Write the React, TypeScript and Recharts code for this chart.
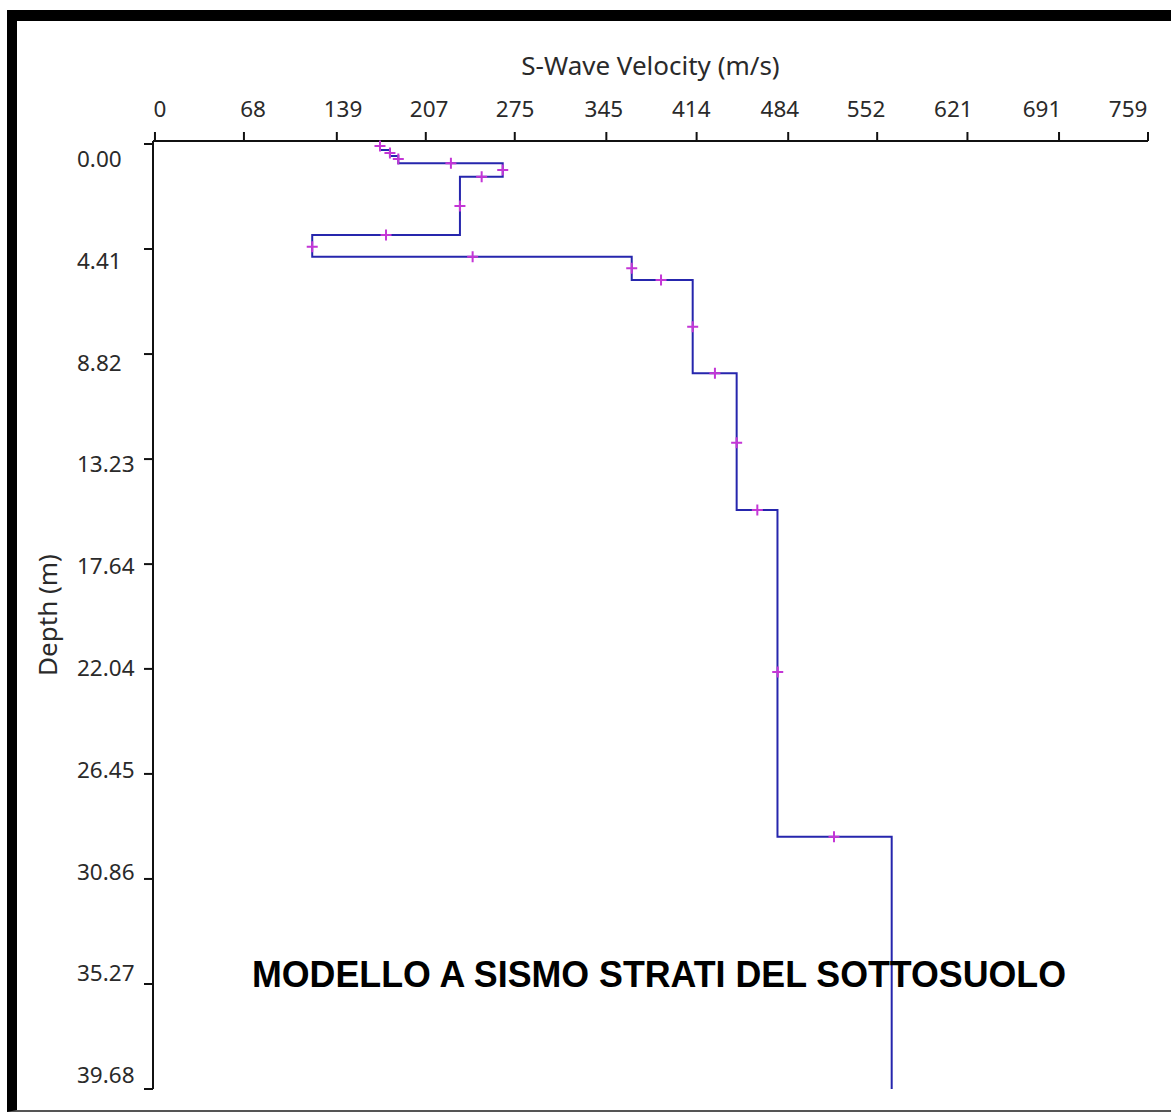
import React from 'react';
import { ScatterChart, Scatter, XAxis, YAxis, Label } from 'recharts';

// axis ticks as printed on the plot
const velocityTicks = [0, 68, 139, 207, 275, 345, 414, 484, 552, 621, 691, 759];
const depthTicks = [0, 4.41, 8.82, 13.23, 17.64, 22.04, 26.45, 30.86, 35.27, 39.68];

// layered model: shear velocity (m/s) and bottom depth (m) of each layer
const layerVelocity = [172, 179.6, 186, 265.8, 233.1, 120.2, 364.4, 411, 444.6, 475.8, 563.1];
const layerBottom = [0.25, 0.5, 0.81, 1.37, 3.82, 4.73, 5.71, 9.63, 15.37, 29.09, 39.68];

// cross markers along the profile
const markerVelocity = [172, 179.6, 186, 226.2, 265.8, 249.7, 233.1, 176.6, 120.2, 242.8, 364.4, 386.8, 411, 428, 444.6, 460.4, 476, 519];
const markerDepth = [0.08, 0.38, 0.63, 0.81, 1.09, 1.37, 2.6, 3.82, 4.31, 4.73, 5.22, 5.71, 7.67, 9.63, 12.54, 15.37, 22.17, 29.09];

const profile: { v: number; d: number }[] = [];
layerVelocity.forEach((v, i) => {
  const top = i === 0 ? 0 : layerBottom[i - 1];
  profile.push({ v, d: top }, { v, d: layerBottom[i] });
});

const markers = markerVelocity.map((v, i) => ({ v, d: markerDepth[i] }));

const FONT = '"Noto Sans", "Open Sans", sans-serif';
const TEXT = '#2a2a2a';

// labels drift slightly against their ticks in the original, kept here
const VelocityTick = ({ x, y, payload, index }: any) => (
  <text x={x + (index === 0 ? 5 : 12 - 2.9 * index)} y={y} textAnchor="middle" fill={TEXT} fontSize={22.5} fontFamily={FONT}>
    {payload.value}
  </text>
);

const DepthTick = ({ x, y, payload, index }: any) => (
  <text x={x - 45} y={y} dy={23 - 3.2 * index} textAnchor="start" fill={TEXT} fontSize={22.5} fontFamily={FONT}>
    {Number(payload.value).toFixed(2)}
  </text>
);

const DepthTitle = (props: any) => {
  const vb = props.viewBox || { x: 0, y: 141, width: 153, height: 948 };
  const cx = vb.x + 48;
  const cy = vb.y + vb.height / 2;
  return (
    <text
      x={cx}
      y={cy}
      dy="0.36em"
      transform={`rotate(-90, ${cx}, ${cy})`}
      textAnchor="middle"
      fill={TEXT}
      fontSize={26}
      fontFamily={FONT}
    >
      Depth (m)
    </text>
  );
};

const Cross = ({ cx, cy }: any) => (
  <path d={`M${cx - 5.5},${cy}H${cx + 5.5}M${cx},${cy - 5.5}V${cy + 5.5}`} stroke="#c436d6" strokeWidth={2} fill="none" />
);

const NoDot = () => <g />;

export default function App() {
  return (
    <div style={{ position: 'absolute', left: 0, top: 0, width: 1171, height: 1113, background: '#fff', overflow: 'hidden' }}>
      <div
        style={{
          position: 'absolute',
          left: 7,
          top: 10,
          width: 1164,
          height: 1102,
          boxSizing: 'border-box',
          borderLeft: '10px solid #000',
          borderTop: '11px solid #000',
          borderBottom: '2px solid #555',
        }}
      />
      <div style={{ position: 'absolute', left: 0, top: 0 }}>
        <ScatterChart width={1171} height={1113} margin={{ top: 80, right: 23, bottom: 24, left: 0 }}>
          <XAxis
            type="number"
            dataKey="v"
            orientation="top"
            domain={[-1.5, 759]}
            ticks={velocityTicks}
            interval={0}
            height={61}
            tickSize={9}
            tickMargin={15}
            axisLine={{ stroke: '#111', strokeWidth: 2 }}
            tickLine={{ stroke: '#111', strokeWidth: 2 }}
            tick={<VelocityTick />}
          >
            <Label value="S-Wave Velocity (m/s)" position="top" offset={5} fill={TEXT} fontSize={26} fontFamily={FONT} />
          </XAxis>
          <YAxis
            type="number"
            dataKey="d"
            reversed
            domain={[-0.126, 39.68]}
            ticks={depthTicks}
            interval={0}
            width={153}
            tickSize={9}
            tickMargin={22}
            axisLine={{ stroke: '#111', strokeWidth: 2 }}
            tickLine={{ stroke: '#111', strokeWidth: 2 }}
            tick={<DepthTick />}
          >
            <Label content={DepthTitle} />
          </YAxis>
          <Scatter
            data={profile}
            line={{ stroke: '#2626ad', strokeWidth: 2 }}
            lineType="joint"
            shape={NoDot}
            isAnimationActive={false}
          />
          <Scatter data={markers} shape={Cross} isAnimationActive={false} />
        </ScatterChart>
      </div>
      <svg width={1171} height={1113} style={{ position: 'absolute', left: 0, top: 0, pointerEvents: 'none' }}>
        <text
          x={252}
          y={987}
          textLength={814}
          lengthAdjust="spacingAndGlyphs"
          fontFamily='"Liberation Sans", Arial, sans-serif'
          fontWeight="bold"
          fontSize={37}
          fill="#000"
        >
          MODELLO A SISMO STRATI DEL SOTTOSUOLO
        </text>
      </svg>
    </div>
  );
}
